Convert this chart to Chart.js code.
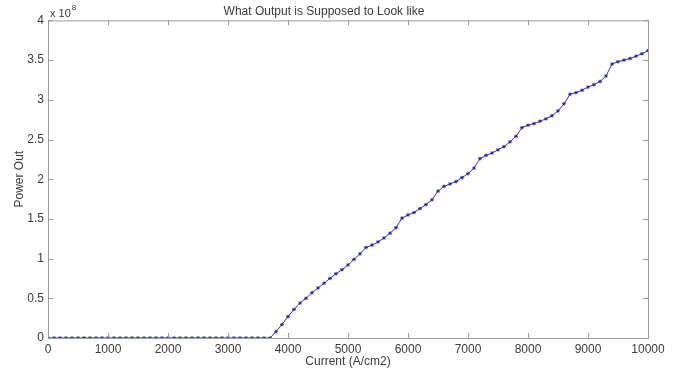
<!DOCTYPE html>
<html>
<head>
<meta charset="utf-8">
<script src="https://cdn.jsdelivr.net/npm/chart.js@4/dist/chart.umd.min.js"></script>
<style>
  html, body { margin: 0; padding: 0; background: #fff; }
  #wrap { width: 675px; height: 373px; }
</style>
</head>
<body>
<div id="wrap"><canvas id="powerChart" width="675" height="373"></canvas></div>
<script>
// Current (A/cm2) sample points
const currents = [
  0, 100, 200, 300, 400, 500, 600, 700, 800, 900,
  1000, 1100, 1200, 1300, 1400, 1500, 1600, 1700, 1800, 1900,
  2000, 2100, 2200, 2300, 2400, 2500, 2600, 2700, 2800, 2900,
  3000, 3100, 3200, 3300, 3400, 3500, 3600, 3700, 3800, 3900,
  4000, 4100, 4200, 4300, 4400, 4500, 4600, 4700, 4800, 4900,
  5000, 5100, 5200, 5300, 5400, 5500, 5600, 5700, 5800, 5900,
  6000, 6100, 6200, 6300, 6400, 6500, 6600, 6700, 6800, 6900,
  7000, 7100, 7200, 7300, 7400, 7500, 7600, 7700, 7800, 7900,
  8000, 8100, 8200, 8300, 8400, 8500, 8600, 8700, 8800, 8900,
  9000, 9100, 9200, 9300, 9400, 9500, 9600, 9700, 9800, 9900,
  10000
];

// Power out, in units of 1e8
const powerOutE8 = [
  0, 0, 0, 0, 0, 0, 0, 0, 0, 0,
  0, 0, 0, 0, 0, 0, 0, 0, 0, 0,
  0, 0, 0, 0, 0, 0, 0, 0, 0, 0,
  0, 0, 0, 0, 0, 0, 0, 0, 0.08, 0.17,
  0.27, 0.36, 0.44, 0.50, 0.57, 0.63, 0.69, 0.75, 0.81, 0.86,
  0.92, 0.99, 1.06, 1.14, 1.17, 1.21, 1.26, 1.32, 1.39, 1.51,
  1.55, 1.58, 1.63, 1.68, 1.74, 1.85, 1.91, 1.94, 1.97, 2.02,
  2.07, 2.14, 2.26, 2.30, 2.33, 2.37, 2.41, 2.47, 2.54, 2.65,
  2.68, 2.70, 2.73, 2.76, 2.80, 2.86, 2.95, 3.07, 3.09, 3.12,
  3.16, 3.19, 3.23, 3.30, 3.45, 3.48, 3.50, 3.52, 3.55, 3.58,
  3.62
];

const xTicks = [0, 1000, 2000, 3000, 4000, 5000, 6000, 7000, 8000, 9000, 10000];
const yTicks = [0, 0.5, 1, 1.5, 2, 2.5, 3, 3.5, 4];

const FONT = 'Liberation Sans, Arial, sans-serif';
const TEXT = '#3a3a3a';
const AXIS = '#9a9a9a';

// MATLAB-like box with inward ticks and the "x 10^8" exponent label
const matlabBox = {
  id: 'matlabBox',
  afterDraw(chart) {
    const { ctx, chartArea: a, scales } = chart;
    const len = 5;
    ctx.save();
    ctx.strokeStyle = AXIS;
    ctx.lineWidth = 1;
    ctx.strokeRect(a.left + 0.5, a.top + 0.5, a.right - a.left, a.bottom - a.top);
    ctx.beginPath();
    xTicks.forEach(v => {
      const x = Math.round(scales.x.getPixelForValue(v)) + 0.5;
      ctx.moveTo(x, a.bottom); ctx.lineTo(x, a.bottom - len);
      ctx.moveTo(x, a.top); ctx.lineTo(x, a.top + len);
    });
    yTicks.forEach(v => {
      const y = Math.round(scales.y.getPixelForValue(v)) + 0.5;
      ctx.moveTo(a.left, y); ctx.lineTo(a.left + len, y);
      ctx.moveTo(a.right, y); ctx.lineTo(a.right - len, y);
    });
    ctx.stroke();

    ctx.fillStyle = TEXT;
    ctx.textBaseline = 'alphabetic';
    ctx.font = '11px ' + FONT;
    ctx.fillText('x 10', a.left + 2, a.top - 3);
    const w = ctx.measureText('x 10').width;
    ctx.font = '8px ' + FONT;
    ctx.fillText('8', a.left + 2 + w + 1, a.top - 10);
    ctx.restore();
  }
};

new Chart(document.getElementById('powerChart'), {
  type: 'line',
  data: {
    datasets: [{
      data: currents.map((c, i) => ({ x: c, y: powerOutE8[i] })),
      borderColor: '#3535a8',
      backgroundColor: '#3535a8',
      borderWidth: 1,
      pointStyle: 'star',
      pointRadius: 1.8,
      pointBorderWidth: 1,
      pointBorderColor: '#2a2a9a',
      tension: 0
    }]
  },
  plugins: [matlabBox],
  options: {
    responsive: false,
    animation: false,
    layout: { padding: { left: 0, right: 27, top: 0, bottom: 0 } },
    plugins: {
      legend: { display: false },
      tooltip: { enabled: false },
      title: {
        display: true,
        text: 'What Output is Supposed to Look like',
        color: TEXT,
        font: { family: FONT, size: 12, weight: 'normal' },
        padding: { top: 4, bottom: 2 }
      }
    },
    scales: {
      x: {
        type: 'linear',
        min: 0,
        max: 10000,
        afterBuildTicks: s => { s.ticks = xTicks.map(v => ({ value: v })); },
        afterFit: s => { s.height = 35; },
        grid: { drawOnChartArea: false, drawTicks: false },
        border: { display: false },
        ticks: {
          color: TEXT,
          padding: 4,
          maxRotation: 0,
          font: { family: FONT, size: 12 },
          callback: v => String(v)
        },
        title: {
          display: true,
          text: 'Current (A/cm2)',
          color: TEXT,
          font: { family: FONT, size: 12 },
          padding: { top: 0, bottom: 4 }
        }
      },
      y: {
        min: 0,
        max: 4,
        afterBuildTicks: s => { s.ticks = yTicks.map(v => ({ value: v })); },
        afterFit: s => { s.width = 48; },
        grid: { drawOnChartArea: false, drawTicks: false },
        border: { display: false },
        ticks: {
          color: TEXT,
          padding: 4,
          font: { family: FONT, size: 12 },
          callback: v => String(v)
        },
        title: {
          display: true,
          text: 'Power Out',
          color: TEXT,
          font: { family: FONT, size: 12 },
          padding: { top: 12, bottom: 0 }
        }
      }
    }
  }
});
</script>
</body>
</html>
